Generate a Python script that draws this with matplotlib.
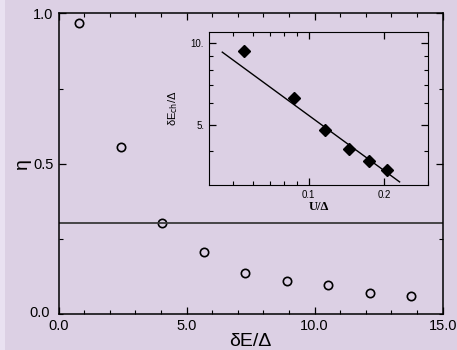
import matplotlib
matplotlib.use("Agg")
import matplotlib.pyplot as plt
from matplotlib.patches import Rectangle
from matplotlib.ticker import FixedLocator, NullFormatter, MultipleLocator

plt.rcParams['font.family'] = ['Liberation Sans', 'DejaVu Sans']

# main panel data
de_ratio = [0.80, 2.44, 4.05, 5.67, 7.28, 8.91, 10.53, 12.15, 13.77]
eta = [0.967, 0.555, 0.304, 0.206, 0.137, 0.110, 0.096, 0.071, 0.061]
eta_level = 0.302

# inset data
u_ratio = [0.055, 0.0873, 0.116, 0.1456, 0.175, 0.205]
dech_ratio = [9.35, 6.26, 4.80, 4.09, 3.68, 3.40]
fit_x = [0.0452, 0.231]
fit_y = [9.27, 3.08]

BG = '#dcd0e4'

fig = plt.figure(figsize=(4.57, 3.50), dpi=100, facecolor=BG)
fig.patches.append(Rectangle((0, 0), 5 / 457, 1, transform=fig.transFigure,
                             facecolor='#e9e1f1', edgecolor='none', zorder=0))

ax = fig.add_axes([58.5 / 457, 35.7 / 350, 384.2 / 457, 301 / 350])
ax.set_facecolor(BG)
ax.plot(de_ratio, eta, 'o', mfc='none', mec='black', ms=6, mew=1.2, clip_on=False)
ax.axhline(eta_level, color='#3a3a3a', lw=1.3)
ax.set_xlim(0, 15)
ax.set_ylim(0, 1)
ax.xaxis.set_major_locator(MultipleLocator(5))
ax.xaxis.set_minor_locator(MultipleLocator(1))
ax.yaxis.set_major_locator(MultipleLocator(0.5))
ax.yaxis.set_minor_locator(MultipleLocator(0.25))
ax.set_xticks([0, 5, 10, 15], ['0.0', '5.0', '10.0', '15.0'])
ax.set_yticks([0.5, 1.0], ['0.5', '1.0'])
ax.tick_params(which='both', direction='in', top=True, right=True, labelsize=10.5)
ax.tick_params(which='major', length=5, width=0.9)
ax.tick_params(which='minor', length=3, width=0.8)
# the y-axis zero label sits apart from the x-axis one
ax.text(-0.33, 0.005, '0.0', fontsize=10.5, ha='right', va='center')
for s in ax.spines.values():
    s.set_linewidth(1.1)
ax.set_xlabel('δE/Δ', fontsize=14, labelpad=0)
ax.set_ylabel('η', fontsize=14, labelpad=2)

ins = fig.add_axes([209 / 457, 165 / 350, 219 / 457, 153 / 350])
ins.set_facecolor(BG)
ins.set_xscale('log')
ins.set_yscale('log')
ins.plot(fit_x, fit_y, color='black', lw=1.0)
ins.plot(u_ratio, dech_ratio, 'D', color='black', ms=6)
ins.set_xlim(0.04, 0.3)
ins.set_ylim(3.0, 11.0)
ins.xaxis.set_major_locator(FixedLocator([0.1, 0.2]))
ins.xaxis.set_minor_locator(FixedLocator([0.05, 0.06, 0.07, 0.08, 0.09, 0.3]))
ins.xaxis.set_minor_formatter(NullFormatter())
ins.set_xticks([0.1, 0.2], ['0.1', '0.2'])
ins.yaxis.set_major_locator(FixedLocator([5, 10]))
ins.yaxis.set_minor_locator(FixedLocator([4, 6, 7, 8, 9]))
ins.yaxis.set_minor_formatter(NullFormatter())
ins.set_yticks([5, 10], ['5.', '10.'])
ins.tick_params(which='both', direction='in', top=True, right=True, labelsize=7)
ins.tick_params(which='major', length=5, width=0.9)
ins.tick_params(which='minor', length=3, width=0.8)
ins.set_xlabel('U/Δ', fontsize=9, fontweight='bold', family=['Liberation Serif', 'DejaVu Serif'],
               labelpad=1)
ins.set_ylabel(r'δE$_{\mathrm{ch}}$/Δ', fontsize=8, labelpad=8)

fig.savefig('out.png', dpi=100, facecolor=BG)
